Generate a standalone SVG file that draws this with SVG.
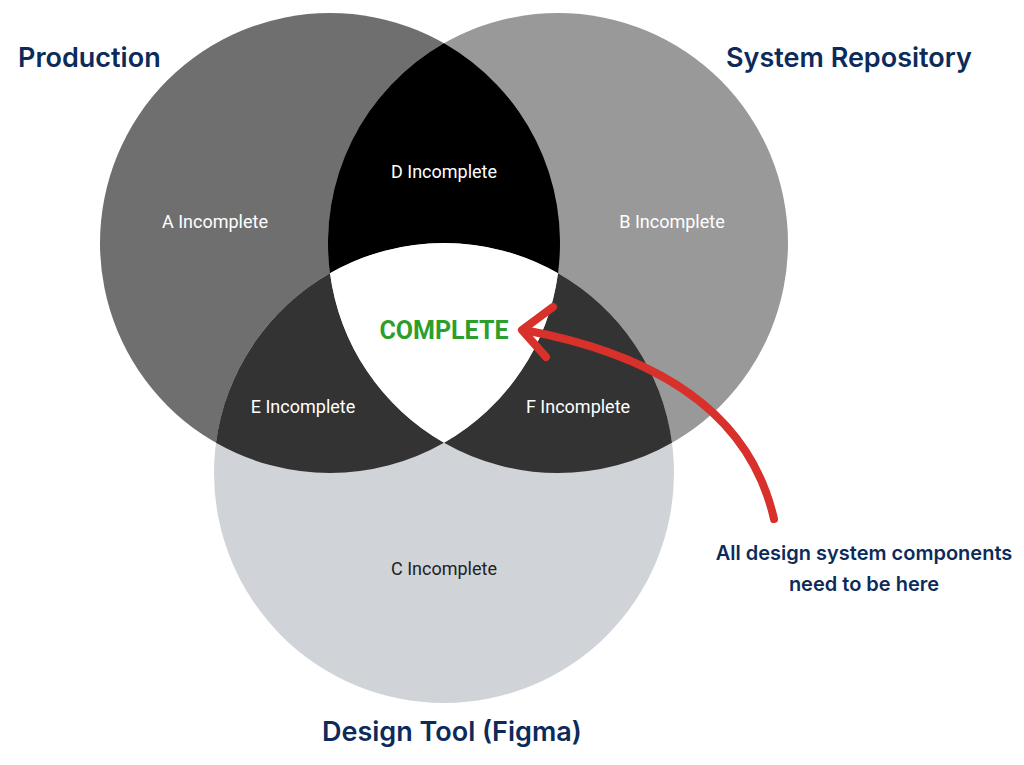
<svg xmlns="http://www.w3.org/2000/svg" width="1024" height="765" viewBox="0 0 1024 765">
<style>
.heading{font-family:Inter,Roboto,"Liberation Sans",sans-serif;font-weight:600;font-size:27px;fill:#0c2b5b}
.lbl{font-family:Roboto,"Liberation Sans",sans-serif;font-size:18px;fill:#ffffff;text-anchor:middle}
.note{font-family:Inter,Roboto,"Liberation Sans",sans-serif;font-weight:600;font-size:20px;fill:#0c2b5b;text-anchor:middle}
</style>
<rect width="1024" height="765" fill="#ffffff"/>
<g id="circle-a"><circle cx="330" cy="243" r="230" fill="#6f6f6f"/></g>
<g id="circle-b"><circle cx="558" cy="243" r="230" fill="#999999"/></g>
<g id="circle-c"><circle cx="444" cy="473" r="230" fill="#d0d3d8"/></g>
<g id="region-d"><path d="M444,43.2 A230,230 0 0 0 330,273.2 A230,230 0 0 1 558,273.2 A230,230 0 0 0 444,43.2 Z" fill="#000000"/></g>
<g id="region-e"><path d="M330,273.2 A230,230 0 0 0 444,442.8 A230,230 0 0 1 216,442.8 A230,230 0 0 1 330,273.2 Z" fill="#333333"/></g>
<g id="region-f"><path d="M558,273.2 A230,230 0 0 1 444,442.8 A230,230 0 0 0 672,442.8 A230,230 0 0 0 558,273.2 Z" fill="#333333"/></g>
<g id="region-center"><path d="M330,273.2 A230,230 0 0 1 558,273.2 A230,230 0 0 1 444,442.8 A230,230 0 0 1 330,273.2 Z" fill="#ffffff"/></g>
<g id="labels">
<text class="lbl" x="215" y="228">A Incomplete</text>
<text class="lbl" x="672" y="228">B Incomplete</text>
<text class="lbl" x="444" y="178">D Incomplete</text>
<text class="lbl" x="303" y="413">E Incomplete</text>
<text class="lbl" x="578" y="413">F Incomplete</text>
<text class="lbl" x="444" y="575" style="fill:#222222">C Incomplete</text>
<text x="444" y="339" style="font-family:Roboto,'Liberation Sans',sans-serif;font-weight:700;font-size:25px;fill:#2c9e2c;text-anchor:middle">COMPLETE</text>
</g>
<g id="titles">
<text class="heading" x="18" y="67">Production</text>
<text class="heading" x="726" y="67">System Repository</text>
<text class="heading" x="322" y="741">Design Tool (Figma)</text>
</g>
<g id="callout">
<text class="note" x="864" y="560">All design system components</text>
<text class="note" x="864" y="591">need to be here</text>
</g>
<g id="connectors" fill="none" stroke="#d8302a" stroke-width="8" stroke-linecap="round" stroke-linejoin="round">
<path d="M774,519 Q740,370 524,330"/>
<path d="M553,307 L522,330 L546,357"/>
</g>
</svg>
